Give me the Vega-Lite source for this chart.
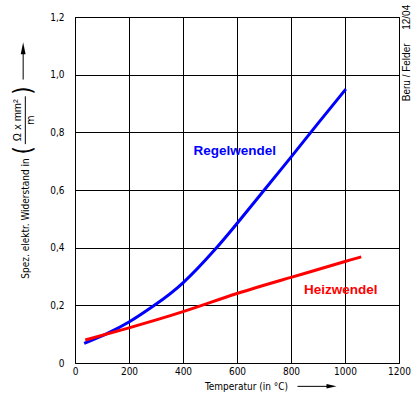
{
  "$schema": "https://vega.github.io/schema/vega-lite/v6.json",
  "width": 324,
  "height": 346,
  "autosize": {"type": "none"},
  "padding": {"left": 75, "top": 17, "right": 14, "bottom": 36},
  "background": "white",
  "config": {
    "view": {"stroke": "black", "strokeWidth": 1},
    "axis": {
      "grid": true, "gridColor": "black", "gridOpacity": 1, "gridWidth": 1,
      "domain": false, "ticks": false,
      "labelFont": "DejaVu Sans Condensed, Liberation Sans", "labelFontSize": 10, "labelColor": "black",
      "titleFont": "DejaVu Sans Condensed, Liberation Sans", "titleFontSize": 10, "titleFontWeight": "normal", "titleColor": "black",
      "labelFlush": false, "labelOverlap": false
    }
  },
  "datasets": {
    "curves": [
      {"x": 34, "y": 0.068, "series": "Regelwendel"},
      {"x": 120, "y": 0.103, "series": "Regelwendel"},
      {"x": 200, "y": 0.142, "series": "Regelwendel"},
      {"x": 294, "y": 0.2, "series": "Regelwendel"},
      {"x": 400, "y": 0.278, "series": "Regelwendel"},
      {"x": 515, "y": 0.39, "series": "Regelwendel"},
      {"x": 600, "y": 0.484, "series": "Regelwendel"},
      {"x": 701, "y": 0.6, "series": "Regelwendel"},
      {"x": 800, "y": 0.714, "series": "Regelwendel"},
      {"x": 900, "y": 0.831, "series": "Regelwendel"},
      {"x": 1003, "y": 0.95, "series": "Regelwendel"},
      {"x": 38, "y": 0.08, "series": "Heizwendel"},
      {"x": 200, "y": 0.122, "series": "Heizwendel"},
      {"x": 400, "y": 0.178, "series": "Heizwendel"},
      {"x": 600, "y": 0.241, "series": "Heizwendel"},
      {"x": 800, "y": 0.297, "series": "Heizwendel"},
      {"x": 1000, "y": 0.352, "series": "Heizwendel"},
      {"x": 1060, "y": 0.368, "series": "Heizwendel"}
    ],
    "curveLabels": [
      {"x": 592, "y": 0.734, "series": "Regelwendel", "label": "Regelwendel"},
      {"x": 984, "y": 0.252, "series": "Heizwendel", "label": "Heizwendel"}
    ],
    "fracNum": [
      {"x": -210, "y": 0.842, "t": "Ω x mm²"}
    ],
    "fracDen": [
      {"x": -162, "y": 0.842, "t": "m"}
    ],
    "parens": [
      {"x": -188, "y": 0.738, "t": "("},
      {"x": -188, "y": 0.945, "t": ")"}
    ],
    "vrules": [
      {"x": -184, "y": 0.759, "y2": 0.925},
      {"x": -192, "y": 0.983, "y2": 1.075}
    ],
    "hrules": [
      {"x": 824, "x2": 935, "y": -0.081}
    ],
    "upHead": [{"x": -192, "y": 1.092}],
    "rightHead": [{"x": 950, "y": -0.081}],
    "stamp": [
      {"x": 1228, "y": 1.008, "t": "Beru / Felder"},
      {"x": 1228, "y": 1.199, "t": "12/04"}
    ]
  },
  "encoding": {
    "x": {
      "field": "x", "type": "quantitative",
      "scale": {"domain": [0, 1200], "nice": false, "zero": false},
      "axis": {
        "values": [0, 200, 400, 600, 800, 1000, 1200],
        "format": "d",
        "title": "Temperatur (in °C)",
        "titleX": 171, "titleY": 23, "titleAlign": "center", "titleBaseline": "middle",
        "labelPadding": 3
      }
    },
    "y": {
      "field": "y", "type": "quantitative",
      "scale": {"domain": [0, 1.2], "nice": false, "zero": false},
      "axis": {
        "values": [0, 0.2, 0.4, 0.6, 0.8, 1.0, 1.2],
        "labelExpr": "datum.value == 0 ? '0' : replace(format(datum.value, '.1f'), '.', ',')",
        "title": "Spez. elektr. Widerstand in",
        "titleX": -50, "titleY": 201, "titleAngle": 270, "titleAlign": "center", "titleBaseline": "middle",
        "labelPadding": 11
      }
    }
  },
  "layer": [
    {
      "data": {"name": "curves"},
      "mark": {"type": "line", "strokeWidth": 3, "interpolate": "natural"},
      "encoding": {
        "color": {"field": "series", "type": "nominal",
          "scale": {"domain": ["Regelwendel", "Heizwendel"], "range": ["#0000ff", "#ff0000"]},
          "legend": null}
      }
    },
    {
      "data": {"name": "curveLabels"},
      "mark": {"type": "text", "font": "Liberation Sans", "fontWeight": "bold", "fontSize": 13.5, "align": "center", "baseline": "middle"},
      "encoding": {
        "text": {"field": "label"},
        "color": {"field": "series", "type": "nominal", "legend": null}
      }
    },
    {
      "data": {"name": "fracNum"},
      "mark": {"type": "text", "font": "Liberation Sans", "fontSize": 11, "angle": 270, "align": "center", "baseline": "middle", "color": "black"},
      "encoding": {"text": {"field": "t"}}
    },
    {
      "data": {"name": "fracDen"},
      "mark": {"type": "text", "font": "DejaVu Sans Condensed, Liberation Sans", "fontSize": 11, "angle": 270, "align": "center", "baseline": "middle", "color": "black"},
      "encoding": {"text": {"field": "t"}}
    },
    {
      "data": {"name": "parens"},
      "mark": {"type": "text", "font": "DejaVu Sans Condensed, Liberation Sans", "fontSize": 24, "angle": 270, "align": "center", "baseline": "middle", "color": "black"},
      "encoding": {"text": {"field": "t"}}
    },
    {
      "data": {"name": "vrules"},
      "mark": {"type": "rule", "color": "black", "strokeWidth": 1},
      "encoding": {"y2": {"field": "y2"}}
    },
    {
      "data": {"name": "hrules"},
      "mark": {"type": "rule", "color": "black", "strokeWidth": 1},
      "encoding": {"x2": {"field": "x2"}}
    },
    {
      "data": {"name": "upHead"},
      "mark": {"type": "point", "shape": "M0,-1L0.4,1L-0.4,1Z", "size": 144, "filled": true, "color": "black", "opacity": 1}
    },
    {
      "data": {"name": "rightHead"},
      "mark": {"type": "point", "shape": "M1,0L-1,-0.45L-1,0.45Z", "size": 100, "filled": true, "color": "black", "opacity": 1}
    },
    {
      "data": {"name": "stamp"},
      "mark": {"type": "text", "font": "Liberation Sans", "fontSize": 10, "angle": 270, "align": "center", "baseline": "middle", "color": "black"},
      "encoding": {"text": {"field": "t"}}
    }
  ]
}
